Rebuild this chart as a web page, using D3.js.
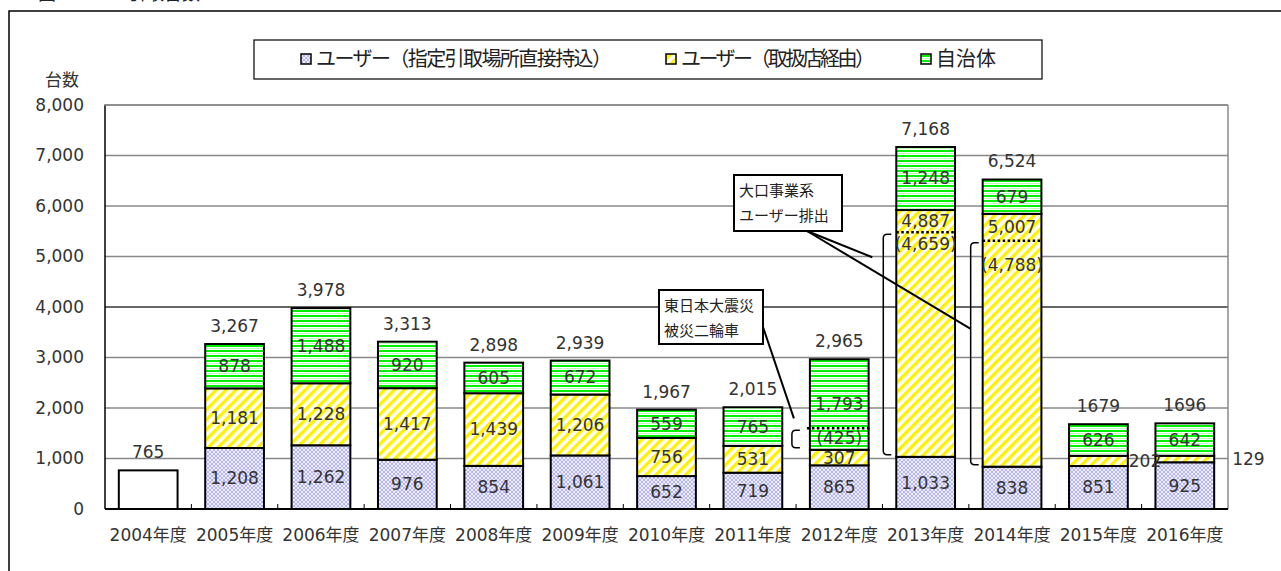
<!DOCTYPE html>
<html>
<head>
<meta charset="utf-8">
<title>引取台数</title>
<script src="https://cdn.jsdelivr.net/npm/d3@7"></script>
<style>
  body { margin: 0; background: #fff; overflow: hidden; }
  svg { display: block; }
  .num { font-family: "DejaVu Sans", "Noto Sans CJK JP", sans-serif; font-size: 17px; fill: #333; }
  .jp { font-family: "Noto Sans CJK JP", sans-serif; fill: #222; }
</style>
</head>
<body>
<svg width="1281" height="571"></svg>
<script>
// --- data ---
const years = ["2004年度", "2005年度", "2006年度", "2007年度", "2008年度", "2009年度", "2010年度",
               "2011年度", "2012年度", "2013年度", "2014年度", "2015年度", "2016年度"];
const userDirect = [0, 1208, 1262, 976, 854, 1061, 652, 719, 865, 1033, 838, 851, 925];
const userStore  = [0, 1181, 1228, 1417, 1439, 1206, 756, 531, 307, 4887, 5007, 202, 129];
const municipal  = [0, 878, 1488, 920, 605, 672, 559, 765, 1793, 1248, 679, 626, 642];
const unsplit    = [765, 0, 0, 0, 0, 0, 0, 0, 0, 0, 0, 0, 0];   // 2004: no breakdown
const totalLabels = ["765", "3,267", "3,978", "3,313", "2,898", "2,939", "1,967",
                     "2,015", "2,965", "7,168", "6,524", "1679", "1696"];
const yTicks = [0, 1000, 2000, 3000, 4000, 5000, 6000, 7000, 8000];
const seriesNames = ["ユーザー（指定引取場所直接持込）", "ユーザー（取扱店経由）", "自治体"];

// breakouts marked by dotted line + bracket
const splitYears  = ["2012年度", "2013年度", "2014年度"];
const splitBase   = [1172, 1033, 838];
const splitLevel  = [1597, 5480, 5310];
const splitLabels = ["(425)", "(4,659)", "(4,788)"];

const svg = d3.select("svg");
const plot = { left: 105, right: 1228, top: 105, bottom: 509 };

const x = d3.scaleBand().domain(years).range([plot.left, plot.right])
  .paddingInner(0.32).paddingOuter(0.16);
const y = d3.scaleLinear().domain([0, 8000]).range([plot.bottom, plot.top]);

// patterns
const defs = svg.append("defs");
const pBlue = defs.append("pattern").attr("id", "pBlue").attr("patternUnits", "userSpaceOnUse")
  .attr("width", 4).attr("height", 4);
pBlue.append("rect").attr("width", 4).attr("height", 4).attr("fill", "#eeeeff");
pBlue.append("path").attr("d", "M0,0L4,4M4,0L0,4").attr("stroke", "#a4a4f4").attr("stroke-width", 0.8);

const pYellow = defs.append("pattern").attr("id", "pYellow").attr("patternUnits", "userSpaceOnUse")
  .attr("width", 7).attr("height", 7).attr("patternTransform", "rotate(45)");
pYellow.append("rect").attr("width", 7).attr("height", 7).attr("fill", "#fff");
pYellow.append("rect").attr("width", 3.4).attr("height", 7).attr("fill", "#fff200");

const pGreen = defs.append("pattern").attr("id", "pGreen").attr("patternUnits", "userSpaceOnUse")
  .attr("width", 5).attr("height", 5);
pGreen.append("rect").attr("width", 5).attr("height", 5).attr("fill", "#fff");
pGreen.append("rect").attr("width", 5).attr("height", 2).attr("fill", "#00f000");
pGreen.append("rect").attr("y", 3).attr("width", 5).attr("height", 1).attr("fill", "#b8ffb8");

const fills = ["url(#pBlue)", "url(#pYellow)", "url(#pGreen)", "#fff"];

// outer frame + cut-off title
svg.append("path").attr("d", "M9,571V11H1281").attr("fill", "none").attr("stroke", "#000").attr("stroke-width", 1.5);
svg.append("text").attr("class", "jp").attr("x", 38).attr("y", 0).style("font-size", "18px").text("図");
svg.append("text").attr("class", "jp").attr("x", 128).attr("y", 0).style("font-size", "18px").text("引取台数");

// grid
svg.append("g").selectAll("line").data(yTicks.filter(d => d > 0)).join("line")
  .attr("x1", plot.left).attr("x2", plot.right)
  .attr("y1", d => y(d)).attr("y2", d => y(d))
  .attr("stroke", d => d === 4000 ? "#333" : "#888").attr("stroke-width", 1.5);
svg.append("line").attr("x1", plot.right).attr("x2", plot.right).attr("y1", plot.top).attr("y2", plot.bottom)
  .attr("stroke", "#888").attr("stroke-width", 1.5);

// y axis labels
const yAxis = svg.append("g").attr("transform", `translate(${plot.left},0)`)
  .call(d3.axisLeft(y).tickValues(yTicks).tickFormat(d3.format(",")).tickSize(0).tickPadding(21));
yAxis.select(".domain").remove();
yAxis.selectAll("text").attr("class", "num").attr("fill", null);
svg.append("text").attr("class", "jp").attr("x", 45).attr("y", 80).attr("dy", "0.35em")
  .style("font-size", "17px").style("fill", "#333").text("台数");

// stacked bars
const table = years.map((yr, i) => ({ year: yr, d: userDirect[i], s: userStore[i], m: municipal[i], u: unsplit[i] }));
const keys = ["d", "s", "m", "u"];
const stack = d3.stack().keys(keys)(table);

const bars = svg.append("g");
stack.forEach((layer, k) => {
  bars.selectAll(null).data(layer.filter(p => p[1] - p[0] > 0)).join("rect")
    .attr("x", p => x(p.data.year))
    .attr("width", x.bandwidth())
    .attr("y", p => y(p[1]))
    .attr("height", p => y(p[0]) - y(p[1]))
    .attr("fill", fills[k])
    .attr("stroke", "#000").attr("stroke-width", 2);
});

// dotted split lines
const splitX = splitYears.map(yr => x(yr));
svg.append("g").selectAll("line").data(splitYears).join("line")
  .attr("x1", (yr, i) => splitX[i] - (i === 0 ? 3 : 0))
  .attr("x2", (yr, i) => splitX[i] + x.bandwidth() + (i === 0 ? 3 : 0))
  .attr("y1", (yr, i) => y(splitLevel[i])).attr("y2", (yr, i) => y(splitLevel[i]))
  .attr("stroke", "#000").attr("stroke-width", 2.5).attr("stroke-dasharray", "2.5,2.5");

// segment labels
const labels = svg.append("g");
const outsideDx = { "2015年度": 1, "2016年度": 18 };
stack.slice(0, 3).forEach((layer, k) => {
  layer.forEach(p => {
    const v = p[1] - p[0];
    if (v <= 0) return;
    const yr = p.data.year;
    const h = y(p[0]) - y(p[1]);
    const si = splitYears.indexOf(yr);
    let tx = x(yr) + x.bandwidth() / 2, ty = (y(p[0]) + y(p[1])) / 2, anchor = "middle";
    if (k === 1 && si > 0) ty = (y(p[1]) + y(splitLevel[si])) / 2;
    if (h < 12) { tx = x(yr) + x.bandwidth() + outsideDx[yr]; anchor = "start"; }
    labels.append("text").attr("class", "num").attr("x", tx).attr("y", ty).attr("dy", "0.35em")
      .attr("text-anchor", anchor).text(d3.format(",")(v));
  });
});
const splitDy = [10, 12, 24];
splitYears.forEach((yr, i) => {
  labels.append("text").attr("class", "num").attr("x", x(yr) + x.bandwidth() / 2)
    .attr("y", y(splitLevel[i]) + splitDy[i]).attr("dy", "0.35em").attr("text-anchor", "middle")
    .text(splitLabels[i]);
});

// totals
const totals = table.map(r => r.d + r.s + r.m + r.u);
labels.selectAll(null).data(years).join("text").attr("class", "num")
  .attr("x", yr => x(yr) + x.bandwidth() / 2)
  .attr("y", (yr, i) => y(totals[i]) - 18).attr("dy", "0.35em").attr("text-anchor", "middle")
  .text((yr, i) => totalLabels[i]);

// axes lines
svg.append("line").attr("x1", plot.left).attr("x2", plot.left).attr("y1", plot.top).attr("y2", plot.bottom)
  .attr("stroke", "#000").attr("stroke-width", 1.5);
svg.append("line").attr("x1", plot.left - 1).attr("x2", plot.right).attr("y1", plot.top).attr("y2", plot.top)
  .attr("stroke", "#888").attr("stroke-width", 1.5);
svg.append("line").attr("x1", plot.left).attr("x2", plot.right).attr("y1", plot.bottom).attr("y2", plot.bottom)
  .attr("stroke", "#000").attr("stroke-width", 2);
svg.append("g").selectAll("line").data(d3.range(1, years.length)).join("line")
  .attr("x1", i => plot.left + i * x.step()).attr("x2", i => plot.left + i * x.step())
  .attr("y1", plot.bottom).attr("y2", plot.bottom - 5).attr("stroke", "#000").attr("stroke-width", 1);

const xAxis = svg.append("g").attr("transform", `translate(0,${plot.bottom})`)
  .call(d3.axisBottom(x).tickSize(0).tickPadding(20));
xAxis.select(".domain").remove();
xAxis.selectAll("text").attr("class", "num").attr("fill", null);

// brackets
const brGap = [18, 13, 12];
const brackets = svg.append("g").attr("fill", "none").attr("stroke", "#000").attr("stroke-width", 1.5);
const brX = splitYears.map((yr, i) => x(yr) - brGap[i]);
splitYears.forEach((yr, i) => {
  const bx = brX[i], t = y(splitLevel[i]) + 2, b = y(splitBase[i]) - 2, r = 4, hk = 8;
  brackets.append("path").attr("d",
    `M${bx + hk},${t}H${bx + r}Q${bx},${t} ${bx},${t + r}V${b - r}Q${bx},${b} ${bx + r},${b}H${bx + hk}`);
});

// callouts
function callout(x0, y0, w, h, lines) {
  svg.append("rect").attr("x", x0).attr("y", y0).attr("width", w).attr("height", h)
    .attr("fill", "#fff").attr("stroke", "#000").attr("stroke-width", 2);
  lines.forEach((t, i) => svg.append("text").attr("class", "jp").attr("x", x0 + 5)
    .attr("y", y0 + 16 + i * 25).attr("dy", "0.35em").style("font-size", "15px").text(t));
}
const leaders = svg.append("g").attr("stroke", "#000").attr("stroke-width", 2);
leaders.append("line").attr("x1", 763).attr("y1", 327)
  .attr("x2", brX[0] + 2).attr("y2", y(splitLevel[0]) - 10);
leaders.append("line").attr("x1", 807).attr("y1", 231)
  .attr("x2", brX[1] - 11).attr("y2", y(splitLevel[1]) + 25);
leaders.append("line").attr("x1", 807).attr("y1", 231)
  .attr("x2", brX[2]).attr("y2", y(splitLevel[2]) + 88);
callout(659, 290, 104, 54, ["東日本大震災", "被災二輪車"]);
callout(734, 175, 108, 56, ["大口事業系", "ユーザー排出"]);

// legend
const lg = svg.append("g");
lg.append("rect").attr("x", 254).attr("y", 40).attr("width", 788).attr("height", 39)
  .attr("fill", "#fff").attr("stroke", "#000").attr("stroke-width", 1.2);
const lgX = [301, 666, 921];
const lgLen = [296, 194, null];
seriesNames.forEach((n, i) => {
  lg.append("rect").attr("x", lgX[i]).attr("y", 54).attr("width", 10).attr("height", 10)
    .attr("fill", fills[i]).attr("stroke", "#000").attr("stroke-width", 1.5);
  const t = lg.append("text").attr("class", "jp").attr("x", lgX[i] + 15).attr("y", 59).attr("dy", "0.35em")
    .style("font-size", "20px").text(n);
  if (lgLen[i]) t.attr("textLength", lgLen[i]).attr("lengthAdjust", "spacing");
});
</script>
</body>
</html>
